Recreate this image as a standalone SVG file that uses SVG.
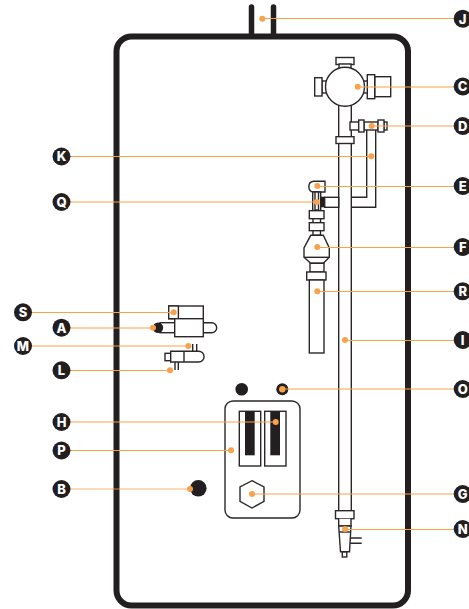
<svg xmlns="http://www.w3.org/2000/svg" width="469" height="609" viewBox="0 0 469 609">
<style>
.p{fill:#fff;stroke:#2b2728;stroke-width:1.4}
.o{fill:none;stroke:#2b2728;stroke-width:1.4}
.k{fill:#231f20}
.f{fill:none;stroke:#231f20;stroke-width:6}
.c{fill:none;stroke:#f9a24b;stroke-width:1.2}
.d{fill:#f9a24b}
.t{fill:#fff;font-family:Inter,"Liberation Sans",sans-serif;font-weight:800;font-size:13px;text-anchor:middle}
</style>
<rect width="469" height="609" fill="#fff"/>
<g id="housing">
<rect class="f" x="116.500" y="36.500" width="291.500" height="569" rx="15"/>
<path d="M251.500 7V36M273.500 7V36" fill="none" stroke="#231f20" stroke-width="5.500" stroke-linecap="round"/>
</g>
<g id="main-pipe">
<path class="o" d="M338.700 143V511M351.300 143V511"/>
<rect class="p" x="335.500" y="510.700" width="18.500" height="8"/>
<path class="p" d="M338.700 518.700V526H351V518.700"/>
<path class="p" d="M338.700 526H351L349.500 551.700H340.500Z"/>
<path class="o" d="M339 532H351"/>
<rect class="p" x="342.300" y="552" width="4.500" height="5"/>
<path class="o" d="M350 538H361.700M350 543.300H361.700"/>
</g>
<g id="valve-c">
<rect class="p" x="336" y="57.500" width="18" height="7"/>
<rect class="p" x="339" y="64" width="12" height="5"/>
<rect class="p" x="322" y="81" width="5" height="12"/>
<rect class="p" x="314.700" y="77.700" width="7.300" height="18.300"/>
<rect class="p" x="363" y="81" width="5" height="12"/>
<rect class="p" x="374.700" y="76.700" width="16" height="20"/>
<rect class="p" x="367.300" y="74.700" width="7.400" height="24"/>
<rect class="p" x="338.700" y="104" width="12.600" height="33"/>
<circle class="p" cx="345" cy="86.700" r="19.500"/>
<rect class="p" x="336" y="136.700" width="18" height="6.800"/>
</g>
<g id="pipe-k">
<path class="o" d="M366.700 130V197.300H351.300M375.700 130V207.300H351.300"/>
</g>
<g id="valve-d">
<rect class="p" x="350" y="122" width="8.700" height="8"/>
<rect class="p" x="364" y="122" width="14" height="8"/>
<rect class="p" x="358.700" y="120" width="5.300" height="12"/>
<rect class="p" x="384" y="122" width="3" height="8"/>
<rect class="p" x="378" y="120" width="6" height="12"/>
</g>
<g id="valve-e-q-f">
<path class="p" d="M325 181.300H313.500A5.400 5.400 0 0 0 313.500 192H325Z"/>
<rect class="p" x="312.700" y="192" width="8" height="18.500"/>
<rect class="p" x="315" y="192" width="3.500" height="18" fill="#fff"/>
<rect class="k" x="320.700" y="196.700" width="4" height="10.600"/>
<rect class="p" x="324.700" y="197.300" width="14" height="10"/>
<rect class="p" x="309.300" y="210.700" width="14.700" height="8"/>
<rect class="p" x="313" y="218.700" width="7.500" height="4"/>
<rect class="p" x="309.300" y="222.700" width="14.700" height="8"/>
<rect class="p" x="313" y="230.700" width="7.500" height="4.600"/>
<path class="p" d="M310.700 235.300H323.300L329.300 248V257.300L323.300 263.300H310.700L304 257.300V248Z"/>
<path class="o" d="M304 257.300H329.300"/>
<rect class="p" x="310" y="263.300" width="14" height="8.700"/>
<rect class="p" x="306.700" y="272" width="19.300" height="8"/>
<rect class="p" x="309.300" y="280" width="14.700" height="73"/>
</g>
<g id="part-s-a">
<rect class="p" x="168.700" y="306" width="34.600" height="12.700"/>
<rect class="p" x="168.700" y="306" width="9.700" height="12.700"/>
<path class="p" d="M203.300 322.700H211.700A5 5 0 0 1 211.700 332.700H203.300Z"/>
<rect class="p" x="160" y="322.700" width="14.700" height="10"/>
<circle class="k" cx="158" cy="327.700" r="5.200"/>
<rect class="p" x="174.700" y="318.700" width="28.600" height="18"/>
</g>
<g id="part-m-l">
<path class="o" d="M192.700 344V352M196.700 344V352M175 362V370M178.300 362V370"/>
<rect class="p" x="165" y="353.300" width="5.700" height="7.400"/>
<path class="p" d="M170.700 351.300H198.700A5.300 5.300 0 0 1 198.700 362H170.700Z"/>
<path class="o" d="M184 351.300V362"/>
</g>
<g id="panel">
<circle class="k" cx="241.700" cy="389.300" r="6.300"/>
<circle class="k" cx="282.300" cy="389.300" r="6"/>
<rect class="p" x="225" y="401" width="75" height="117" rx="8"/>
<rect class="p" x="239.300" y="411.300" width="21.400" height="54.700"/>
<rect class="p" x="264.700" y="411.300" width="21.300" height="54.700"/>
<rect class="k" x="245" y="411.300" width="9.700" height="44"/>
<rect class="k" x="270.300" y="411.300" width="9.700" height="44"/>
<path class="p" d="M252 480.700L264 487V501.300L252 508L240 501.300V487Z"/>
<circle class="k" cx="198.300" cy="488.300" r="8.300"/>
</g>
<g id="connectors">
<path class="c" d="M262 18.500H455"/><circle class="d" cx="262.300" cy="18.700" r="3"/>
<path class="c" d="M358 87H455"/><circle class="d" cx="357.700" cy="86.700" r="3"/>
<path class="c" d="M372 126H455"/><circle class="d" cx="371.700" cy="126" r="3"/>
<path class="c" d="M70 156.500H371"/><circle class="d" cx="371.300" cy="156.300" r="3"/>
<path class="c" d="M317 186.500H455"/><circle class="d" cx="317.300" cy="186" r="3"/>
<path class="c" d="M70 202H317"/><circle class="d" cx="316.700" cy="202" r="3"/>
<path class="c" d="M317 247.500H455"/><circle class="d" cx="317.300" cy="247" r="3"/>
<path class="c" d="M317 291.500H455"/><circle class="d" cx="317.300" cy="291.300" r="3"/>
<path class="c" d="M345 340.500H455"/><circle class="d" cx="345" cy="340" r="3"/>
<path class="c" d="M282 389H455"/><circle class="d" cx="282.300" cy="389.300" r="3.200"/>
<path class="c" d="M252 494H455"/><circle class="d" cx="252" cy="494" r="3"/>
<path class="c" d="M345 529.500H455"/><circle class="d" cx="345" cy="529" r="3"/>
<path class="c" d="M31 312.500H174"/><circle class="d" cx="173.700" cy="312.300" r="3"/>
<path class="c" d="M70 328H153"/><circle class="d" cx="153" cy="327.700" r="3"/>
<path class="c" d="M31 346H188"/><circle class="d" cx="188.300" cy="346" r="3"/>
<path class="c" d="M70 370.500H170"/><circle class="d" cx="170" cy="370.300" r="3"/>
<path class="c" d="M70 422H276"/><circle class="d" cx="275.700" cy="422" r="3"/>
<path class="c" d="M70 450.500H231"/><circle class="d" cx="231" cy="450.300" r="3"/>
<path class="c" d="M70 489H190" stroke-opacity=".8"/><circle class="d" cx="190" cy="489" r="3"/>
</g>
<g id="label-J"><circle class="k" cx="462.700" cy="18.700" r="9"/><text class="t" x="462.700" y="23.500">J</text></g>
<g id="label-C"><circle class="k" cx="462.700" cy="86.500" r="9"/><text class="t" x="462.700" y="91.300">C</text></g>
<g id="label-D"><circle class="k" cx="462.700" cy="126" r="9"/><text class="t" x="462.700" y="130.800">D</text></g>
<g id="label-E"><circle class="k" cx="462.700" cy="186" r="9"/><text class="t" x="462.700" y="190.800">E</text></g>
<g id="label-F"><circle class="k" cx="462.700" cy="247" r="9"/><text class="t" x="462.700" y="251.800">F</text></g>
<g id="label-R"><circle class="k" cx="462.700" cy="291.300" r="9"/><text class="t" x="462.700" y="296.100">R</text></g>
<g id="label-I"><circle class="k" cx="462.700" cy="340" r="9"/><text class="t" x="462.700" y="344.800">I</text></g>
<g id="label-O"><circle class="k" cx="462.700" cy="389" r="9"/><text class="t" x="462.700" y="393.800">O</text></g>
<g id="label-G"><circle class="k" cx="462.700" cy="494" r="9"/><text class="t" x="462.700" y="498.800">G</text></g>
<g id="label-N"><circle class="k" cx="462.700" cy="529" r="9"/><text class="t" x="462.700" y="533.800">N</text></g>
<g id="label-K"><circle class="k" cx="61.500" cy="156.500" r="9"/><text class="t" x="61.500" y="161.300">K</text></g>
<g id="label-Q"><circle class="k" cx="61.500" cy="202" r="9"/><text class="t" x="61.500" y="206.800">Q</text></g>
<g id="label-S"><circle class="k" cx="23" cy="312.300" r="9"/><text class="t" x="23" y="317.100">S</text></g>
<g id="label-A"><circle class="k" cx="61.500" cy="327.700" r="9"/><text class="t" x="61.500" y="332.500">A</text></g>
<g id="label-M"><circle class="k" cx="23" cy="346" r="9"/><text class="t" x="23" y="350.800">M</text></g>
<g id="label-L"><circle class="k" cx="61.500" cy="370.300" r="9"/><text class="t" x="61.500" y="375.100">L</text></g>
<g id="label-H"><circle class="k" cx="61.500" cy="422" r="9"/><text class="t" x="61.500" y="426.800">H</text></g>
<g id="label-P"><circle class="k" cx="61.500" cy="450.500" r="9"/><text class="t" x="61.500" y="455.300">P</text></g>
<g id="label-B"><circle class="k" cx="61.500" cy="489" r="9"/><text class="t" x="61.500" y="493.800">B</text></g>
</svg>
